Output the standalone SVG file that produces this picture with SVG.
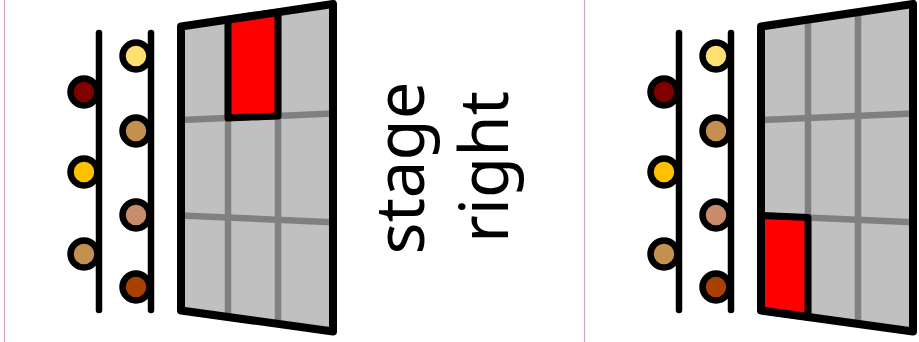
<svg xmlns="http://www.w3.org/2000/svg" width="919" height="342" viewBox="0 0 919 342">
<style>
.sep{stroke:#c8a6c8;stroke-width:1.2;fill:none}
.rail{stroke:#000;stroke-width:6.5;stroke-linecap:round;fill:none}
.light{stroke:#000;stroke-width:6.5}
.board{fill:#c0c0c0;stroke:none}
.grid{stroke:#808080;stroke-width:6.5;fill:none}
.frame{fill:none;stroke:#000;stroke-width:8;stroke-linejoin:round}
.cell{fill:#ff0000;stroke:#000;stroke-width:7;stroke-linejoin:round}
.label{font-family:"Noto Sans","Open Sans",sans-serif;font-size:67px;fill:#000;text-anchor:middle}
</style>
<defs>
<g id="rig">
<g id="lights">
<circle class="light" cx="84" cy="92" r="13.5" fill="#800000"/>
<circle class="light" cx="84" cy="172" r="13.5" fill="#ffc000"/>
<circle class="light" cx="84" cy="254" r="13.5" fill="#c49050"/>
<circle class="light" cx="136" cy="56" r="13.5" fill="#ffe070"/>
<circle class="light" cx="136" cy="131" r="13.5" fill="#c49050"/>
<circle class="light" cx="136" cy="215" r="13.5" fill="#c88c6c"/>
<circle class="light" cx="136" cy="287" r="13.5" fill="#a84000"/>
</g>
<line class="rail" x1="99" y1="33" x2="99" y2="310"/>
<line class="rail" x1="151" y1="33" x2="151" y2="310"/>
<polygon class="board" points="181,26.5 333,4 333,331.5 181,310.5"/>
<line class="grid" x1="181" y1="120" x2="333" y2="113.5"/>
<line class="grid" x1="181" y1="215.5" x2="333" y2="222.3"/>
<line class="grid" x1="228" y1="19.5" x2="228" y2="317"/>
<line class="grid" x1="278" y1="12.1" x2="278" y2="324"/>
</g>
<polygon id="board-frame" class="frame" points="181,26.5 333,4 333,331.5 181,310.5"/>
</defs>
<line class="sep" x1="4.5" y1="0" x2="4.5" y2="342"/>
<line class="sep" x1="584.5" y1="0" x2="584.5" y2="342"/>
<g id="left-panel">
<use href="#rig"/>
<polygon id="left-selected-cell" class="cell" points="228,19.5 278,12.1 278,115.9 228,118"/>
<use href="#board-frame"/>
</g>
<g id="stage-label">
<text class="label" transform="translate(424,168) rotate(-90)">stage</text>
<text class="label" transform="translate(508,167) rotate(-90)">right</text>
</g>
<g id="right-panel" transform="translate(580,0)">
<use href="#rig"/>
<polygon id="right-selected-cell" class="cell" points="181,215.5 228,217.6 228,317 181,310.5"/>
<use href="#board-frame"/>
</g>
<g id="connectors"/>
</svg>
